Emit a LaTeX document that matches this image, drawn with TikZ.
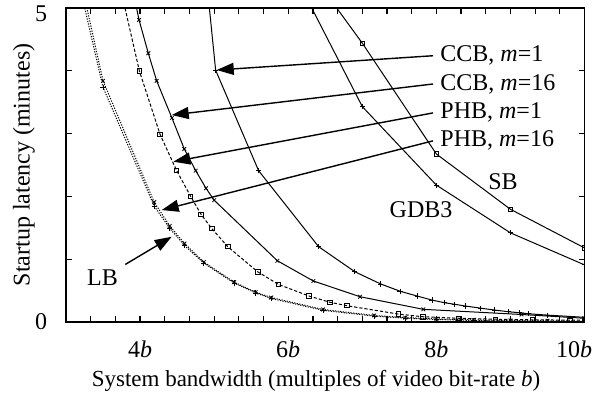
\documentclass[tikz,border=0pt]{standalone}
\usepackage{fontspec}
\setmainfont{Liberation Serif}
\usetikzlibrary{arrows.meta,plotmarks}

\begin{document}
\begin{tikzpicture}[
  x=37.035pt, y=31.4pt,
  font=\fontsize{12}{14}\selectfont,
  axis/.style={line width=0.75pt},
  tickm/.style={line width=0.6pt},
  crv/.style={line width=0.5pt, mark size=1.3pt, mark options={solid, line width=0.4pt}},
  sqcrv/.style={crv, mark=square, mark size=1.1pt},
  dashcrv/.style={dash pattern=on 1.6pt off 1pt},
  dotcrv/.style={dash pattern=on 0.6pt off 0.7pt},
  arr/.style={-{Triangle[length=8.5pt, width=6pt]}, line width=0.7pt},
  lab/.style={inner sep=3.5pt},
  num/.style={inner sep=0pt},
]
\useasboundingbox (2.109,-1.1306) rectangle (10.290,5.1274);
% ---- curves, clipped to the frame ----
\begin{scope}
  \clip (3,0) rectangle (10,5);
  % SB
  \draw[sqcrv] plot coordinates {(6,6.06) (7,4.44) (8,2.675) (9,1.795) (10,1.18)};
  % GDB3
  \draw[crv, mark=+] plot coordinates {(6,5.73) (7,3.43) (8,2.18) (9,1.42) (10,0.91)};
  % CCB, m=1
  \draw[crv, mark=+] plot coordinates {(4.85,6.0) (5.02,4.01) (5.6,2.41) (6.41,1.2) (6.9,0.80) (7.25,0.605) (7.51,0.49) (7.74,0.414) (7.94,0.35) (8.11,0.307) (8.25,0.282) (8.39,0.255) (8.6,0.22) (8.79,0.19) (8.97,0.164) (9.12,0.148) (9.24,0.132) (9.5,0.11) (10,0.075)};
  % CCB, m=16
  \draw[crv, mark=x] plot coordinates {(3.9,5.3) (3.986,4.81) (4.111,4.28) (4.224,3.84) (4.43,3.25) (4.597,2.755) (4.751,2.41) (4.89,2.13) (5.0,1.94) (5.853,0.976) (6.339,0.653) (6.969,0.403) (7.824,0.202) (9.15,0.12) (10,0.06)};
  % PHB, m=1
  \draw[sqcrv, dashcrv] plot coordinates {(3.75,5.24) (3.99,4.0) (4.269,2.99) (4.494,2.41) (4.683,2.0) (4.823,1.715) (4.967,1.49) (5.183,1.2) (5.588,0.80) (5.866,0.60) (6.28,0.414) (6.564,0.314) (6.79,0.26) (7.486,0.127) (7.82,0.084) (8.3,0.06) (8.8,0.045) (9.3,0.035) (9.8,0.03) (10,0.028)};
  % PHB, m=16
  \draw[crv, dotcrv, mark=x] plot coordinates {(3.0,6.5) (3.5,3.84) (4.19,1.91) (4.4,1.53) (4.6,1.25) (4.86,0.955) (5.27,0.635) (5.56,0.475) (5.77,0.39) (6.47,0.2) (7.16,0.105) (7.58,0.07) (8,0.05) (8.5,0.035) (9,0.025) (9.5,0.02) (10,0.015)};
  % LB
  \draw[crv, dotcrv, mark=+] plot coordinates {(3.0,6.287) (3.5,3.737) (4.19,1.846) (4.4,1.492) (4.6,1.218) (4.86,0.9375) (5.27,0.6205) (5.56,0.4637) (5.77,0.3756) (6.47,0.1862) (7.16,0.0934) (7.58,0.0613) (8,0.0403) (8.5,0.0244) (9,0.0148) (9.5,0.009) (10,0.0055)};
\end{scope}
% ---- frame and ticks ----
\draw[axis] (3,0) rectangle (10,5);
\foreach \k in {1,...,20} {
  \draw[tickm] ({3+\k/3},0) -- ++(0,3pt);
  \draw[tickm] ({3+\k/3},5) -- ++(0,-3pt);
}
\foreach \v in {1,...,4} {
  \draw[tickm] (3,\v) -- ++(3pt,0);
  \draw[tickm] (10,\v) -- ++(-3pt,0);
}
% ---- axis labels ----
\node[num, anchor=east] (y0) at (2.75,0) {0};
\node[num, anchor=east] (y5) at (2.75,4.904) {5};
\node (x4) at (4,-0.438) {4\textit{b}};
\node (x6) at (6,-0.438) {6\textit{b}};
\node (x8) at (8,-0.438) {8\textit{b}};
\node (x10) at (9.858,-0.438) {10\textit{b}};
\node[rotate=90] (ytitle) at (2.433,2.5) {Startup latency (minutes)};
\node[font=\fontsize{11.5}{14}\selectfont] (xtitle) at (6.375,-0.93) {System bandwidth (multiples of video bit-rate \textit{b})};
% ---- arrow targets on the curves ----
\coordinate (tccba) at (5.035,4.013);
\coordinate (tccbb) at (4.427,3.296);
\coordinate (tphba) at (4.449,2.553);
\coordinate (tphbb) at (4.292,1.783);
\coordinate (tlb) at (4.427,1.358);
% ---- curve labels ----
\node[lab, anchor=west] (lccba) at (7.955,4.24) {CCB, \textit{m}=1};
\node[lab, anchor=west] (lccbb) at (7.955,3.79) {CCB, \textit{m}=16};
\node[lab, anchor=west] (lphba) at (7.955,3.33) {PHB, \textit{m}=1};
\node[lab, anchor=west] (lphbb) at (7.955,2.885) {PHB, \textit{m}=16};
\node[lab] (llb) at (3.493,0.70) {LB};
\node[lab] (lsb) at (8.9,2.229) {SB};
\node[lab] (lgdb) at (7.793,1.783) {GDB3};
\draw[arr] (lccba.west) -- (tccba);
\draw[arr] (lccbb.west) -- (tccbb);
\draw[arr] (lphba.west) -- (tphba);
\draw[arr] (lphbb.west) -- (tphbb);
\draw[arr] (llb) -- (tlb);
\end{tikzpicture}
\end{document}
